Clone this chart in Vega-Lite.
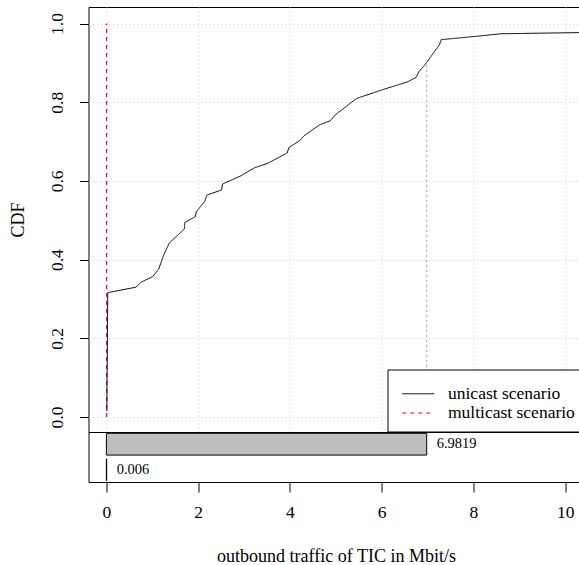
{
  "$schema": "https://vega.github.io/schema/vega-lite/v6.json",
  "padding": {"left": 8.5, "top": 6, "right": 0, "bottom": 0},
  "spacing": 0,
  "bounds": "flush",
  "datasets": {
    "cdf": [
      {"scenario": "multicast scenario", "traffic": 0.006, "cdf": 0.0},
      {"scenario": "multicast scenario", "traffic": 0.006, "cdf": 1.0},
      {"scenario": "unicast scenario", "traffic": 0.01, "cdf": 0.015},
      {"scenario": "unicast scenario", "traffic": 0.03, "cdf": 0.316},
      {"scenario": "unicast scenario", "traffic": 0.645, "cdf": 0.330},
      {"scenario": "unicast scenario", "traffic": 0.76, "cdf": 0.343},
      {"scenario": "unicast scenario", "traffic": 1.01, "cdf": 0.357},
      {"scenario": "unicast scenario", "traffic": 1.14, "cdf": 0.376},
      {"scenario": "unicast scenario", "traffic": 1.25, "cdf": 0.412},
      {"scenario": "unicast scenario", "traffic": 1.37, "cdf": 0.442},
      {"scenario": "unicast scenario", "traffic": 1.70, "cdf": 0.478},
      {"scenario": "unicast scenario", "traffic": 1.71, "cdf": 0.495},
      {"scenario": "unicast scenario", "traffic": 1.94, "cdf": 0.509},
      {"scenario": "unicast scenario", "traffic": 1.96, "cdf": 0.522},
      {"scenario": "unicast scenario", "traffic": 2.14, "cdf": 0.547},
      {"scenario": "unicast scenario", "traffic": 2.19, "cdf": 0.564},
      {"scenario": "unicast scenario", "traffic": 2.51, "cdf": 0.577},
      {"scenario": "unicast scenario", "traffic": 2.53, "cdf": 0.592},
      {"scenario": "unicast scenario", "traffic": 2.93, "cdf": 0.613},
      {"scenario": "unicast scenario", "traffic": 3.22, "cdf": 0.633},
      {"scenario": "unicast scenario", "traffic": 3.52, "cdf": 0.645},
      {"scenario": "unicast scenario", "traffic": 3.94, "cdf": 0.671},
      {"scenario": "unicast scenario", "traffic": 3.98, "cdf": 0.685},
      {"scenario": "unicast scenario", "traffic": 4.22, "cdf": 0.703},
      {"scenario": "unicast scenario", "traffic": 4.31, "cdf": 0.715},
      {"scenario": "unicast scenario", "traffic": 4.64, "cdf": 0.742},
      {"scenario": "unicast scenario", "traffic": 4.88, "cdf": 0.753},
      {"scenario": "unicast scenario", "traffic": 5.01, "cdf": 0.770},
      {"scenario": "unicast scenario", "traffic": 5.46, "cdf": 0.810},
      {"scenario": "unicast scenario", "traffic": 6.13, "cdf": 0.836},
      {"scenario": "unicast scenario", "traffic": 6.55, "cdf": 0.851},
      {"scenario": "unicast scenario", "traffic": 6.75, "cdf": 0.863},
      {"scenario": "unicast scenario", "traffic": 6.82, "cdf": 0.879},
      {"scenario": "unicast scenario", "traffic": 6.93, "cdf": 0.893},
      {"scenario": "unicast scenario", "traffic": 7.26, "cdf": 0.946},
      {"scenario": "unicast scenario", "traffic": 7.30, "cdf": 0.959},
      {"scenario": "unicast scenario", "traffic": 8.02, "cdf": 0.967},
      {"scenario": "unicast scenario", "traffic": 8.60, "cdf": 0.974},
      {"scenario": "unicast scenario", "traffic": 10.33, "cdf": 0.977},
      {"scenario": "unicast scenario", "traffic": 11.5, "cdf": 0.979}
    ],
    "summary": [
      {"scenario": "unicast scenario", "mean": 6.9819, "cdfAtMean": 0.895},
      {"scenario": "multicast scenario", "mean": 0.006, "cdfAtMean": 1.0}
    ]
  },
  "vconcat": [
    {
      "width": 495,
      "height": 425,
      "layer": [
        {
          "data": {"name": "cdf"},
          "transform": [{"filter": "datum.scenario === 'multicast scenario'"}],
          "mark": {"type": "line", "strokeWidth": 1.2, "clip": true},
          "encoding": {
            "x": {"field": "traffic", "type": "quantitative", "scale": {"domain": [-0.39, 10.4], "nice": false, "zero": false},
                  "axis": {"grid": true, "labels": false, "ticks": false, "domain": false, "title": null, "values": [0, 2, 4, 6, 8, 10]}},
            "y": {"field": "cdf", "type": "quantitative", "scale": {"domain": [-0.038, 1.042], "nice": false, "zero": false},
                  "axis": {"values": [0, 0.2, 0.4, 0.6, 0.8, 1.0], "format": ".1f", "title": "CDF", "labelAngle": -90, "tickSize": 9, "labelPadding": 13, "titlePadding": 21, "domain": false, "grid": true}},
            "color": {"field": "scenario", "type": "nominal", "scale": {"domain": ["unicast scenario", "multicast scenario"], "range": ["black", "red"]},
                      "legend": {"title": " "}},
            "strokeDash": {"field": "scenario", "type": "nominal", "scale": {"domain": ["unicast scenario", "multicast scenario"], "range": [[1, 0], [4, 4]]}},
            "order": {"field": "cdf", "type": "quantitative"}
          }
        },
        {
          "data": {"name": "summary"},
          "transform": [{"filter": "datum.scenario === 'unicast scenario'"}],
          "mark": {"type": "rule", "color": "#9a9a9a", "strokeDash": [2, 3], "strokeWidth": 1, "clip": true},
          "encoding": {
            "x": {"field": "mean", "type": "quantitative"},
            "y": {"field": "cdfAtMean", "type": "quantitative"},
            "y2": {"datum": -0.06}
          }
        },
        {
          "data": {"name": "cdf"},
          "transform": [{"filter": "datum.scenario === 'unicast scenario'"}],
          "mark": {"type": "line", "strokeWidth": 1, "clip": true},
          "encoding": {
            "x": {"field": "traffic", "type": "quantitative"},
            "y": {"field": "cdf", "type": "quantitative"},
            "color": {"field": "scenario", "type": "nominal"},
            "strokeDash": {"field": "scenario", "type": "nominal"},
            "order": {"field": "cdf", "type": "quantitative"}
          }
        }
      ]
    },
    {
      "width": 495,
      "height": 50,
      "data": {"name": "summary"},
      "encoding": {
        "y": {"field": "scenario", "type": "nominal", "scale": {"domain": ["unicast scenario", "multicast scenario"], "paddingInner": 0.15, "paddingOuter": 0.05}, "axis": null}
      },
      "layer": [
        {
          "mark": {"type": "bar", "fill": "#bebebe", "stroke": "black", "strokeWidth": 1},
          "encoding": {
            "x": {"field": "mean", "type": "quantitative", "scale": {"domain": [-0.39, 10.4], "nice": false, "zero": false},
                  "axis": {"values": [0, 2, 4, 6, 8, 10], "tickSize": 10, "labelPadding": 11, "title": "outbound traffic of TIC in Mbit/s", "titlePadding": 27, "grid": false, "domain": false}},
            "x2": {"datum": 0}
          }
        },
        {
          "mark": {"type": "text", "align": "left", "baseline": "middle", "dx": 10, "fontSize": 14.5, "font": "Liberation Serif", "color": "black"},
          "encoding": {
            "x": {"field": "mean", "type": "quantitative"},
            "text": {"field": "mean", "type": "nominal"}
          }
        }
      ]
    }
  ],
  "resolve": {"scale": {"x": "independent", "y": "independent"}},
  "config": {
    "font": "Liberation Serif",
    "view": {"stroke": "black", "strokeWidth": 1},
    "axis": {"labelFont": "Liberation Serif", "titleFont": "Liberation Serif", "labelFontSize": 17.5, "titleFontSize": 18, "titleFontWeight": "normal", "labelColor": "black", "titleColor": "black", "tickColor": "black", "gridColor": "#d0d0d0", "gridDash": [1, 3], "gridWidth": 1},
    "legend": {"orient": "none", "legendX": 299, "legendY": 362.5, "symbolType": "M-4,0H4", "symbolSize": 64, "labelFont": "Liberation Serif", "labelFontSize": 17.5, "labelColor": "black", "fillColor": "white", "strokeColor": "black", "padding": 9.5, "rowPadding": 0.3, "labelOffset": 21, "symbolOffset": 12.5, "symbolStrokeWidth": 1, "titleFontSize": 3, "titlePadding": 3}
  }
}
